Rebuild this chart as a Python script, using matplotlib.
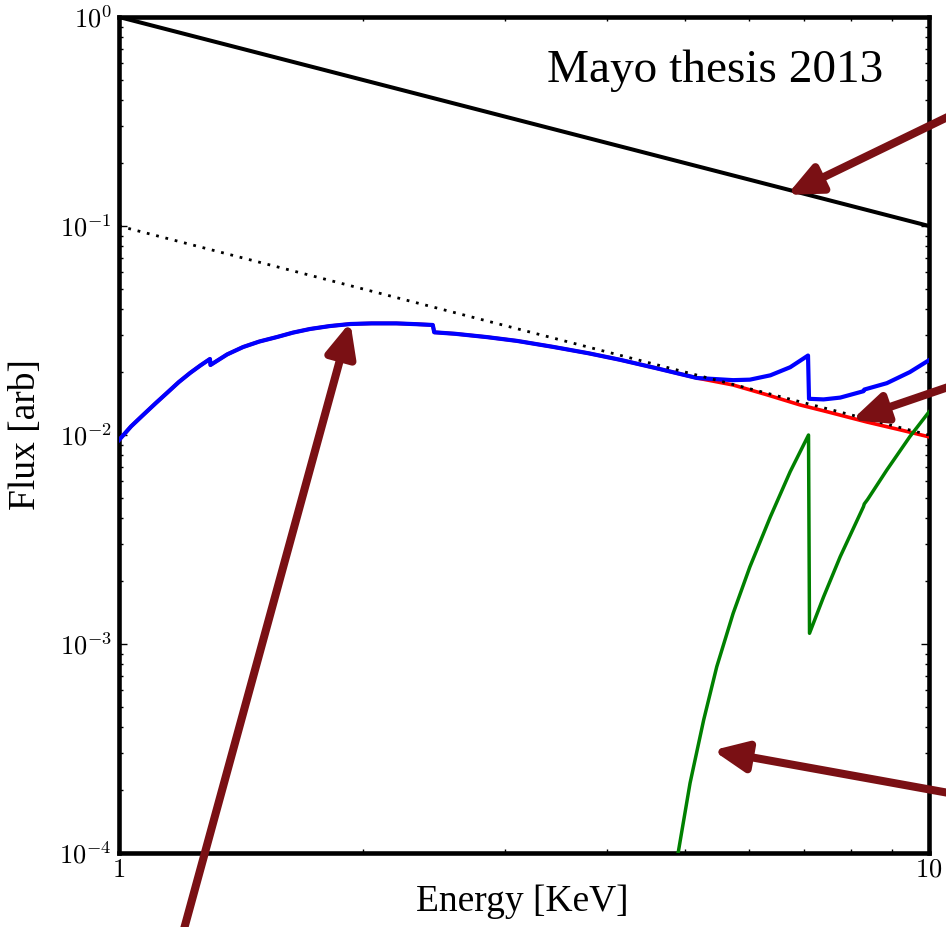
import matplotlib
matplotlib.use("Agg")
import matplotlib.pyplot as plt
from matplotlib.ticker import FixedLocator, FixedFormatter, LogLocator, NullFormatter

# ---------------- data ----------------
powerlaw_E = [1.0, 10.0]
powerlaw_F = [1.0, 0.1]

dotted_E = [1.0, 10.0]
dotted_F = [0.1, 0.01]

blue_E = [1.0, 1.035, 1.071, 1.11, 1.146, 1.185, 1.224, 1.26, 1.295, 1.297, 1.36, 1.423,
          1.49, 1.567, 1.64, 1.721, 1.82, 1.93, 2.05, 2.2, 2.33, 2.44, 2.45, 2.6, 2.847,
          3.1, 3.435, 3.8, 4.155, 4.6, 5.17, 5.47, 5.73, 6.01, 6.37, 6.74, 7.09, 7.11,
          7.41, 7.77, 8.30, 8.32, 8.87, 9.47, 10.0]
blue_F = [0.00946, 0.0110, 0.01247, 0.0142, 0.01589, 0.0179, 0.01981, 0.0215, 0.0231,
          0.02163, 0.0243, 0.02636, 0.0280, 0.02943, 0.0309, 0.03215, 0.0332, 0.03397,
          0.0342, 0.0342, 0.0339, 0.0336, 0.0310, 0.0305, 0.0294, 0.0282, 0.0264, 0.0246,
          0.0229, 0.0209, 0.01874, 0.0185, 0.0183, 0.0184, 0.0193, 0.0211, 0.0240, 0.0149,
          0.0148, 0.0151, 0.0162, 0.0165, 0.0177, 0.0200, 0.0228]

red_E = [1.0, 1.035, 1.071, 1.11, 1.146, 1.185, 1.224, 1.26, 1.295, 1.297, 1.36, 1.423,
         1.49, 1.567, 1.64, 1.721, 1.82, 1.93, 2.05, 2.2, 2.33, 2.44, 2.45, 2.6, 2.847,
         3.1, 3.435, 3.8, 4.155, 4.6, 5.17, 5.73, 6.3, 6.93, 7.5, 8.38, 9.2, 10.0]
red_F = [0.00946, 0.0110, 0.01247, 0.0142, 0.01589, 0.0179, 0.01981, 0.0215, 0.0231,
         0.02163, 0.0243, 0.02636, 0.0280, 0.02943, 0.0309, 0.03215, 0.0332, 0.03397,
         0.0342, 0.0342, 0.0339, 0.0336, 0.0310, 0.0305, 0.0294, 0.0282, 0.0264, 0.0246,
         0.0229, 0.0209, 0.01874, 0.01735, 0.0156, 0.01393, 0.0129, 0.01154, 0.0106, 0.0098]

green_E = [4.85, 4.903, 5.07, 5.27, 5.47, 5.73, 6.01, 6.37, 6.74, 7.10, 7.12, 7.41, 7.77,
           8.30, 8.32, 8.40, 8.87, 9.47, 10.0]
green_F = [8.3e-5, 1.01e-4, 2.16e-4, 4.33e-4, 7.79e-4, 1.40e-3, 2.34e-3, 4.06e-3, 6.68e-3,
           0.0100, 1.125e-3, 1.68e-3, 2.62e-3, 4.54e-3, 4.68e-3, 4.92e-3, 6.80e-3, 9.82e-3,
           0.0129]

y_ticks = [1e-4, 1e-3, 1e-2, 1e-1, 1e0]
y_ticklabels = [r"$10^{-4}$", r"$10^{-3}$", r"$10^{-2}$", r"$10^{-1}$", r"$10^{0}$"]
x_ticks = [1, 10]
x_ticklabels = [r"$1$", r"$10$"]

# arrow tips in data coordinates, tails in figure pixels
arrow_tips = [(6.68, 0.141), (8.03, 0.0118), (5.41, 3.1e-4), (1.93, 0.0347)]
arrow_tails_px = [(960, 111), (960, 383), (960, 795), (181, 940)]

# ---------------- figure ----------------
W, H = 946, 927
plt.rcParams["mathtext.fontset"] = "cm"
plt.rcParams["font.family"] = ["Liberation Serif", "DejaVu Serif"]

fig = plt.figure(figsize=(W / 100, H / 100), dpi=100)
ax = fig.add_axes([119 / W, 1 - 853 / H, 810 / W, 836 / H])
ax.set_xscale("log")
ax.set_yscale("log")
ax.set_xlim(1, 10)
ax.set_ylim(1e-4, 1)

ax.plot(powerlaw_E, powerlaw_F, color="black", lw=2.9, zorder=3)
ax.plot(red_E, red_F, color="#ff0000", lw=2.6, zorder=3)
ax.plot(blue_E, blue_F, color="#0000ff", lw=3.0, zorder=4)
ax.plot(green_E, green_F, color="#008000", lw=2.5, zorder=4)
ax.plot(dotted_E, dotted_F, color="black", lw=2.0, linestyle=(0, (1.0, 2.45)), zorder=5)

for sp in ax.spines.values():
    sp.set_linewidth(3.3)

ax.yaxis.set_major_locator(FixedLocator(y_ticks))
ax.yaxis.set_major_formatter(FixedFormatter(y_ticklabels))
ax.yaxis.set_minor_locator(LogLocator(base=10, subs=range(2, 10)))
ax.yaxis.set_minor_formatter(NullFormatter())
ax.xaxis.set_major_locator(FixedLocator(x_ticks))
ax.xaxis.set_major_formatter(FixedFormatter(x_ticklabels))
ax.xaxis.set_minor_locator(LogLocator(base=10, subs=range(2, 10)))
ax.xaxis.set_minor_formatter(NullFormatter())

ax.tick_params(which="both", direction="in", top=True, right=True, width=1.0)
ax.tick_params(which="major", length=5.5, labelsize=19, pad=5)
ax.tick_params(which="minor", length=3)

ax.set_xlabel("Energy [KeV]", fontsize=27)
ax.set_ylabel("Flux [arb]", fontsize=27)
ax.xaxis.set_label_coords(0.498, -0.038)
ax.yaxis.set_label_coords(-0.094, 0.5)

ax.text(0.943, 0.922, "Mayo thesis 2013", transform=ax.transAxes, ha="right",
        va="baseline", fontsize=34)

arrow_color = "#7a1014"
for (tx, ty), (px, py) in zip(arrow_tips, arrow_tails_px):
    ann = ax.annotate("", xy=(tx, ty), xycoords="data",
                      xytext=(px / W, 1 - py / H), textcoords="figure fraction",
                      arrowprops=dict(arrowstyle="-|>,head_length=2.0,head_width=0.9",
                                      lw=5.8, color=arrow_color, shrinkA=0, shrinkB=0),
                      annotation_clip=False, zorder=10)
    ann.arrow_patch.set_clip_on(False)

fig.savefig("out.png", dpi=100)
